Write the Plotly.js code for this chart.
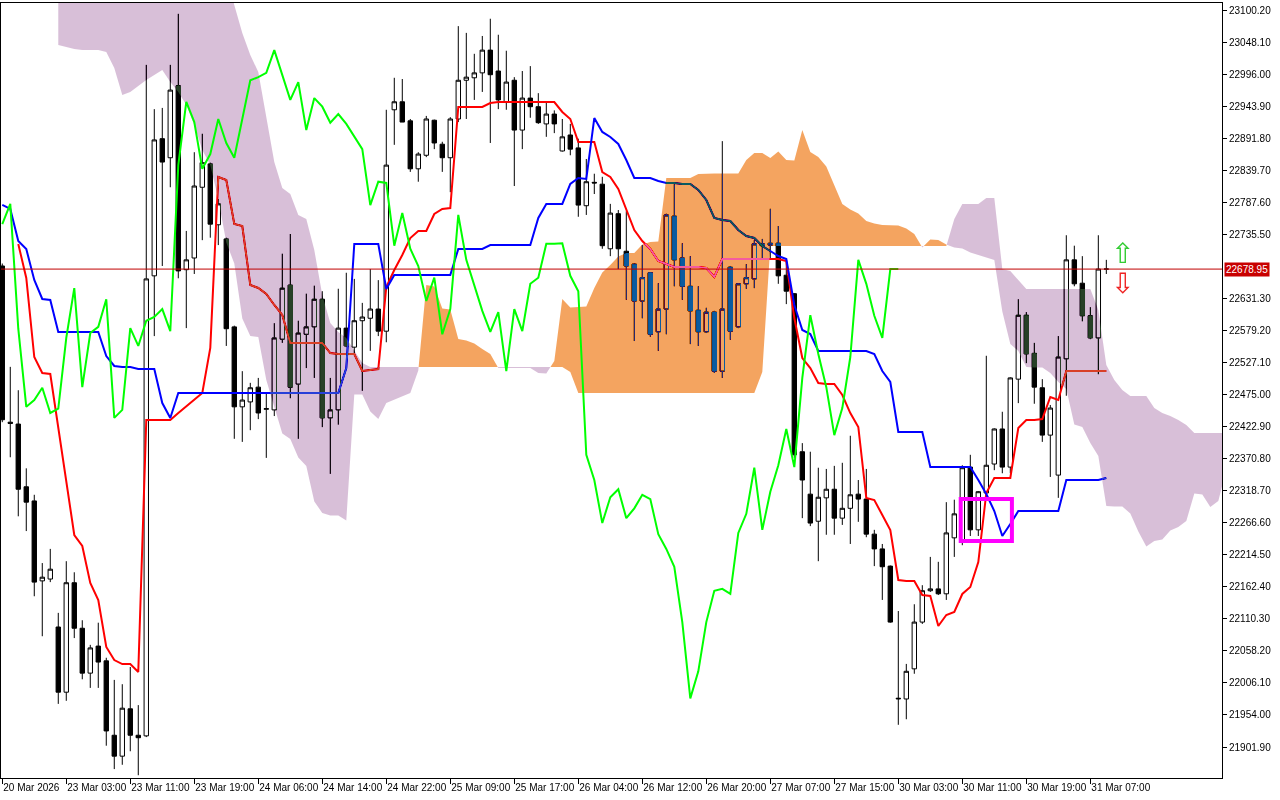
<!DOCTYPE html>
<html>
<head>
<meta charset="utf-8">
<title>Ichimoku H1</title>
<script src="https://cdn.plot.ly/plotly-3.0.1.min.js"></script>
<style>
html,body{margin:0;padding:0;background:#ffffff;overflow:hidden;}
#wrap{position:relative;width:1280px;height:800px;isolation:isolate;background:#ffffff;}
#base,#kumo,#over{position:absolute;left:0;top:0;width:1280px;height:800px;}
#kumo{mix-blend-mode:difference;}
</style>
</head>
<body>
<div id="wrap"><div id="base"></div><div id="kumo"></div><div id="over"></div></div>
<script>
// ---------------- data (H1 bars, index 0 = leftmost bar) ----------------
const opens = [
22684,22430,22427,22325,22302,22172,22175,22097,21991,22169,
22095,22022,22066,22042,21921,21887,21964,21921,21920,22668,
22891,22860,22977,22678,22697,22812,22850,22751,22728,22585,
22455,22463,22487,22451,22450,22565,22653,22492,22573,22585,
22630,22437,22450,22583,22552,22595,22599,22614,22578,22938,
22951,22920,22842,22864,22921,22882,22860,22923,22986,22990,
22998,23035,23001,22951,22986,22905,22957,22943,22915,22931,
22871,22897,22876,22782,22820,22817,22712,22769,22708,22687,
22627,22673,22577,22614,22765,22697,22651,22612,22577,22609,
22513,22682,22585,22655,22663,22717,22718,22721,22669,22639,
22382,22313,22269,22307,22321,22274,22290,22313,22305,22248,
22224,22196,21980,21980,22029,22105,22156,22159,22151,22242,
22235,22357,22255,22315,22362,22419,22357,22500,22604,22542,
22486,22409,22344,22533,22694,22656,22603,22567,22679];
const highs = [
22688,22520,22482,22355,22312,22201,22224,22120,22204,22186,
22108,22068,22104,22047,22011,22004,22032,21970,23011,22939,
22941,23011,23094,22741,22869,22899,22852,22793,22730,22587,
22513,22494,22502,22478,22591,22704,22736,22595,22639,22652,
22643,22502,22647,22673,22663,22624,22679,22661,22938,22990,
22988,22923,22869,22928,22922,22886,22926,23074,23063,23029,
23058,23086,23060,23034,22991,23001,23009,22965,22949,22937,
22923,22915,22891,22858,22834,22829,22785,22775,22773,22688,
22718,22674,22656,22769,22817,22721,22700,22651,22616,22611,
22887,22684,22656,22687,22726,22728,22777,22749,22695,22640,
22396,22382,22356,22354,22359,22364,22408,22336,22354,22255,
22232,22197,22123,22037,22134,22165,22211,22203,22300,22304,
22360,22377,22318,22538,22420,22447,22503,22630,22609,22559,
22500,22458,22570,22734,22717,22700,22617,22734,22694];
const lows = [
22430,22373,22277,22253,22147,22082,22170,21972,21977,22079,
22012,21998,21998,21904,21866,21873,21895,21856,21918,22570,
22684,22812,22664,22583,22671,22726,22730,22718,22554,22403,
22398,22417,22435,22372,22440,22559,22469,22403,22518,22502,
22422,22346,22426,22552,22541,22481,22546,22570,22560,22881,
22918,22837,22821,22861,22874,22837,22804,22918,22923,22954,
22967,22884,22939,22938,22814,22874,22925,22915,22894,22900,
22870,22864,22764,22767,22801,22712,22700,22679,22629,22562,
22599,22569,22546,22573,22651,22629,22557,22554,22575,22510,
22502,22564,22583,22647,22648,22695,22695,22655,22622,22372,
22274,22261,22204,22247,22247,22263,22232,22268,22243,22196,
22141,22104,21938,21947,22021,22102,22154,22149,22141,22211,
22230,22245,22245,22307,22352,22347,22347,22461,22526,22460,
22398,22341,22307,22473,22651,22594,22565,22508,22671];
const closes = [
22434,22428,22321,22300,22170,22178,22191,21991,22169,22095,
22022,22063,22040,21928,21887,21965,21921,21917,22663,22889,
22853,22970,22676,22694,22814,22852,22752,22785,22582,22455,
22466,22486,22445,22452,22567,22648,22487,22575,22585,22630,
22437,22450,22583,22554,22595,22601,22614,22578,22848,22951,
22918,22842,22866,22923,22884,22860,22923,22986,22991,22998,
23035,22995,22954,22983,22905,22957,22943,22917,22931,22915,
22894,22874,22783,22821,22819,22717,22770,22712,22684,22627,
22665,22573,22614,22767,22694,22651,22611,22577,22609,22513,
22614,22578,22655,22665,22720,22720,22721,22668,22643,22377,
22336,22266,22308,22321,22274,22290,22312,22305,22248,22224,
22195,22105,21981,22025,22105,22156,22159,22151,22250,22281,
22356,22255,22317,22360,22419,22357,22502,22604,22541,22487,
22409,22453,22536,22694,22655,22603,22567,22679,22678.95];

// Tenkan-sen (red) per bar
const tenkan = [
null,null,22719.8,22664.5,22536.0,22510.0,22508.4,22420.6,22332.8,22246.6,
22228.7,22168.5,22140.9,22064.5,22043.3,22036.8,22036.8,22023.8,22433.6,22433.6,
22433.6,22433.6,22444.9,22456.3,22466.1,22477.5,22550.7,22828.7,22823.8,22752.3,
22749.0,22653.1,22648.2,22638.5,22620.6,22604.3,22558.8,22558.8,22558.8,22558.8,
22558.8,22542.5,22540.9,22540.9,22540.9,22513.2,22514.9,22516.5,22649.8,22677.5,
22701.9,22729.5,22740.9,22740.9,22768.5,22776.7,22778.3,22942.5,22942.5,22942.5,
22942.5,22949.0,22950.6,22950.6,22950.6,22950.6,22950.6,22950.6,22950.6,22950.6,
22934.4,22923.0,22885.6,22885.6,22885.6,22836.8,22828.7,22809.2,22775.1,22742.5,
22724.6,22711.6,22692.1,22687.2,22682.4,22682.4,22682.4,22682.4,22680.7,22666.1,
22695.4,22695.4,22695.4,22695.4,22695.4,22695.4,22695.4,22695.4,22692.1,22599.4,
22534.4,22518.1,22493.7,22492.1,22492.1,22474.2,22444.9,22422.2,22306.8,22303.5,
22279.1,22254.7,22173.4,22171.8,22171.8,22149.0,22147.4,22098.6,22116.5,22121.4,
22150.7,22162.0,22202.7,22314.9,22339.3,22339.3,22339.3,22420.6,22433.6,22433.6,
22435.2,22471.0,22466.1,22513.2,22513.2,22513.2,22513.2,22513.2,22513.2];

// Kijun-sen (blue) per bar
const kijun = [
22783.2,22776.7,22724.6,22711.6,22661.2,22630.3,22628.7,22576.7,22576.7,22576.7,
22576.7,22576.7,22576.7,22537.6,22521.4,22519.7,22519.7,22516.5,22516.5,22516.5,
22461.2,22436.8,22477.5,22477.5,22477.5,22477.5,22477.5,22477.5,22477.5,22477.5,
22477.5,22477.5,22477.5,22477.5,22477.5,22477.5,22477.5,22477.5,22477.5,22477.5,
22477.5,22477.5,22477.5,22518.1,22719.8,22719.8,22719.8,22719.8,22646.6,22669.4,
22669.4,22669.4,22669.4,22669.4,22669.4,22669.4,22669.4,22711.6,22711.6,22711.6,
22711.6,22718.1,22718.1,22718.1,22718.1,22718.1,22718.1,22762.0,22784.8,22784.8,
22784.8,22817.3,22827.1,22825.5,22924.6,22901.9,22893.7,22882.4,22856.3,22827.1,
22827.1,22827.1,22822.2,22818.9,22818.9,22817.3,22817.3,22807.6,22791.3,22762.0,
22758.8,22757.2,22742.5,22732.8,22729.5,22716.5,22708.4,22700.2,22695.4,22620.6,
22579.9,22573.4,22545.8,22545.8,22545.8,22545.8,22545.8,22545.8,22545.8,22540.9,
22513.2,22495.4,22414.1,22414.1,22414.1,22414.1,22357.2,22357.2,22357.2,22357.2,
22357.2,22357.2,22336.0,22313.3,22285.6,22244.9,22264.5,22285.6,22285.6,22285.6,
22285.6,22285.6,22285.6,22336.0,22336.0,22336.0,22336.0,22336.0,22339.3];

// Senkou Span A / B (already displaced 26 bars forward), starting at bar 7
const cloudStart = 7;
const senkouA = [
23043.3,23040.1,23036.8,23035.2,23035.2,23035.2,23031.9,23005.9,22962.0,22966.9,
22976.7,22986.4,22994.6,23002.7,22983.2,22966.9,22945.8,22913.3,22872.6,22848.2,
22792.9,22722.2,22688.0,22598.6,22570.2,22568.5,22498.6,22454.7,22411.6,22402.7,
22372.6,22358.8,22301.1,22282.4,22278.3,22278.3,22270.2,22475.0,22475.0,22447.4,
22435.2,22461.2,22466.9,22471.8,22477.5,22514.1,22653.1,22650.6,22614.9,22613.3,
22565.3,22562.8,22558.0,22549.0,22540.9,22518.1,22518.1,22518.1,22518.1,22518.1,
22510.0,22509.2,22529.5,22630.3,22616.5,22617.3,22618.1,22648.2,22673.4,22685.6,
22699.4,22705.1,22705.1,22718.9,22723.0,22723.8,22827.1,22827.1,22827.1,22827.1,
22833.6,22834.4,22834.4,22834.4,22834.4,22834.4,22856.3,22867.7,22867.7,22859.6,
22870.2,22856.3,22855.5,22905.1,22869.3,22861.2,22845.8,22815.7,22784.8,22775.9,
22769.3,22757.2,22753.1,22750.7,22749.9,22749.9,22745.0,22736.0,22714.1,22727.1,
22726.3,22718.9,22714.1,22712.4,22705.9,22701.9,22697.8,22693.7,22610.0,22557.2,
22545.8,22519.7,22518.9,22518.9,22510.0,22495.4,22484.0,22426.3,22422.2,22396.2,
22375.0,22293.7,22292.9,22292.9,22281.6,22252.3,22227.9,22236.8,22239.3,22253.9,
22259.6,22269.4,22314.1,22312.4,22292.1,22301.9,22353.1];
const senkouB = [
23157.2,23157.2,23157.2,23157.2,23157.2,23157.2,23157.2,23157.2,23157.2,23157.2,
23157.2,23157.2,23157.2,23157.2,23157.2,23157.2,23157.2,23157.2,23157.2,23157.2,
23157.2,23157.2,23108.4,23062.8,23027.1,22999.4,22929.5,22853.1,22810.8,22801.1,
22766.9,22760.4,22710.0,22636.8,22591.3,22576.7,22566.9,22547.4,22526.3,22519.7,
22519.7,22519.7,22519.7,22519.7,22519.7,22519.7,22519.7,22519.7,22519.7,22519.7,
22519.7,22519.7,22519.7,22519.7,22519.7,22519.7,22519.7,22519.7,22519.7,22519.7,
22519.7,22519.7,22519.7,22519.7,22511.6,22477.5,22477.5,22477.5,22477.5,22477.5,
22477.5,22477.5,22477.5,22477.5,22477.5,22477.5,22477.5,22477.5,22477.5,22477.5,
22477.5,22477.5,22477.5,22477.5,22477.5,22477.5,22477.5,22477.5,22511.6,22716.5,
22716.5,22716.5,22716.5,22716.5,22716.5,22716.5,22716.5,22716.5,22716.5,22716.5,
22716.5,22716.5,22716.5,22716.5,22716.5,22716.5,22716.5,22716.5,22716.5,22716.5,
22716.5,22716.5,22760.4,22784.8,22784.8,22784.8,22794.5,22794.5,22679.1,22675.9,
22661.2,22646.6,22646.6,22646.6,22646.6,22646.6,22646.6,22646.6,22646.6,22646.6,
22612.4,22523.0,22498.6,22482.4,22472.6,22472.6,22472.6,22453.0,22445.0,22440.1,
22433.6,22425.5,22412.4,22412.4,22412.4,22412.4,22412.4];

const chikouShift = 26;
const lastPrice = 22678.95;

const timeTickBars = [0,8,16,24,32,40,48,56,64,72,80,88,96,104,112,120,128,136];
const timeLabels = ['20 Mar 2026','23 Mar 03:00','23 Mar 11:00','23 Mar 19:00','24 Mar 06:00',
  '24 Mar 14:00','24 Mar 22:00','25 Mar 09:00','25 Mar 17:00','26 Mar 04:00','26 Mar 12:00',
  '26 Mar 20:00','27 Mar 07:00','27 Mar 15:00','30 Mar 03:00','30 Mar 11:00','30 Mar 19:00','31 Mar 07:00'];
const priceTicks = [23100.20,23048.10,22996.00,22943.90,22891.80,22839.70,22787.60,22735.50,
  22631.30,22579.20,22527.10,22475.00,22422.90,22370.80,22318.70,22266.60,22214.50,22162.40,
  22110.30,22058.20,22006.10,21954.00,21901.90];

const highlightBox = {x0: 119.8, x1: 126.2, y0: 22236.8, y1: 22305.1};
const signalArrows = [
  {bar: 140, price: 22704.3, symbol: '\u21E7', color: '#33cc33'},
  {bar: 140, price: 22656.3, symbol: '\u21E9', color: '#ee2222'}
];

// ---------------- build ----------------
const bars = opens.map((_, i) => i);
const cloudBars = senkouA.map((_, k) => k + cloudStart);
const chikouX = closes.slice(chikouShift).map((_, k) => k);
const chikouY = closes.slice(chikouShift);

// polygons of the Kumo where (A-B) has the requested sign, split at crossings
function kumo(xs, a, b, sign) {
  const X = [], Y = [];
  let top = null, bot = null;
  const cross = (k) => {
    const dp = a[k-1] - b[k-1], d = a[k] - b[k];
    const t = dp / (dp - d);
    return [xs[k-1] + t * (xs[k] - xs[k-1]), a[k-1] + t * (a[k] - a[k-1])];
  };
  const flush = () => {
    if (top && top.length > 1) {
      const pts = top.concat(bot.slice().reverse());
      pts.forEach(p => { X.push(p[0]); Y.push(p[1]); });
      X.push(null); Y.push(null);
    }
    top = null; bot = null;
  };
  for (let k = 0; k < xs.length; k++) {
    const inside = sign > 0 ? a[k] > b[k] : a[k] < b[k];
    if (inside) {
      if (!top) {
        top = []; bot = [];
        if (k > 0) { const c = cross(k); top.push(c); bot.push(c); }
      }
      top.push([xs[k], a[k]]); bot.push([xs[k], b[k]]);
    } else if (top) {
      const c = cross(k); top.push(c); bot.push(c); flush();
    }
  }
  flush();
  return {X, Y};
}
const up = kumo(cloudBars, senkouA, senkouB, 1);
const dn = kumo(cloudBars, senkouA, senkouB, -1);

const FONT = 'Liberation Sans, Arial, sans-serif';
const XR = [-0.16, 152.46];
const YR = [21851.5, 23111.6];
const MARGIN = {l: 1, r: 58, t: 3, b: 22, pad: 0};

// ---- layer 1: price bars, Tenkan, Kijun, axes ----
const baseData = [
  {
    type: 'candlestick', x: bars, open: opens, high: highs, low: lows, close: closes,
    increasing: {line: {color: '#000000', width: 1}, fillcolor: '#ffffff'},
    decreasing: {line: {color: '#000000', width: 1}, fillcolor: '#000000'},
    whiskerwidth: 0, showlegend: false, hoverinfo: 'skip'
  },
  {type: 'scatter', mode: 'lines', x: bars, y: tenkan, line: {color: '#ff0000', width: 2}, showlegend: false, hoverinfo: 'skip'},
  {type: 'scatter', mode: 'lines', x: bars, y: kijun, line: {color: '#0000ff', width: 2}, showlegend: false, hoverinfo: 'skip'}
];
const baseLayout = {
  width: 1280, height: 800, margin: MARGIN,
  paper_bgcolor: '#ffffff', plot_bgcolor: '#ffffff', showlegend: false,
  boxgap: 0.45, boxgroupgap: 0,
  font: {family: FONT, size: 10, color: '#000000'},
  xaxis: {
    range: XR, rangeslider: {visible: false},
    showgrid: false, zeroline: false, showline: true, linecolor: '#000000', linewidth: 1, mirror: true,
    tickmode: 'array', tickvals: timeTickBars, ticktext: timeLabels, tickangle: 0,
    ticks: 'outside', ticklen: 5, tickcolor: '#000000', tickwidth: 1,
    ticklabelposition: 'outside right',
    tickfont: {family: FONT, size: 10, color: '#000000'}, fixedrange: true
  },
  yaxis: {
    range: YR, side: 'right',
    showgrid: false, zeroline: false, showline: true, linecolor: '#000000', linewidth: 1, mirror: true,
    tickmode: 'array', tickvals: priceTicks, tickformat: '.2f',
    ticks: 'outside', ticklen: 4, tickcolor: '#000000', tickwidth: 1,
    tickfont: {family: FONT, size: 10, color: '#000000'}, fixedrange: true
  }
};

// ---- layer 2: Kumo, drawn with "difference" blending like the terminal's XOR fill ----
// fill colours are white minus SandyBrown and white minus Thistle
const kumoData = [
  {type: 'scatter', mode: 'lines', x: up.X, y: up.Y, fill: 'toself', fillcolor: 'rgb(11,91,159)',
   line: {width: 0, color: 'rgba(0,0,0,0)'}, showlegend: false, hoverinfo: 'skip'},
  {type: 'scatter', mode: 'lines', x: dn.X, y: dn.Y, fill: 'toself', fillcolor: 'rgb(39,64,39)',
   line: {width: 0, color: 'rgba(0,0,0,0)'}, showlegend: false, hoverinfo: 'skip'}
];
const hiddenAxes = {
  width: 1280, height: 800, margin: MARGIN,
  paper_bgcolor: 'rgba(0,0,0,0)', plot_bgcolor: 'rgba(0,0,0,0)', showlegend: false,
  xaxis: {range: XR, visible: false, fixedrange: true},
  yaxis: {range: YR, visible: false, side: 'right', fixedrange: true}
};

// ---- layer 3: Chikou span, price line, objects ----
const overData = [
  {type: 'scatter', mode: 'lines', x: chikouX, y: chikouY, line: {color: '#00ff00', width: 2}, showlegend: false, hoverinfo: 'skip'}
];
const overLayout = Object.assign({}, hiddenAxes, {
  shapes: [
    {type: 'line', xref: 'paper', x0: 0, x1: 1, yref: 'y', y0: lastPrice, y1: lastPrice,
     line: {color: '#c00000', width: 1}, layer: 'above'},
    {type: 'rect', xref: 'x', yref: 'y', x0: highlightBox.x0, x1: highlightBox.x1,
     y0: highlightBox.y0, y1: highlightBox.y1, line: {color: '#ff00ff', width: 4}, layer: 'above'}
  ],
  annotations: [
    {xref: 'paper', x: 1, xanchor: 'left', xshift: 2, yref: 'y', y: lastPrice, yanchor: 'middle',
     text: lastPrice.toFixed(2), showarrow: false, bgcolor: '#c80000', borderpad: 1,
     font: {family: FONT, size: 10, color: '#ffffff'}}
  ].concat(signalArrows.map(a => ({
     xref: 'x', x: a.bar, yref: 'y', y: a.price, xanchor: 'center', yanchor: 'middle',
     text: a.symbol, showarrow: false, font: {family: 'DejaVu Sans', size: 28, color: a.color}
  })))
});

const cfg = {staticPlot: true, displayModeBar: false};
Plotly.newPlot('base', baseData, baseLayout, cfg);
Plotly.newPlot('kumo', kumoData, hiddenAxes, cfg);
Plotly.newPlot('over', overData, overLayout, cfg);
</script>
</body>
</html>
